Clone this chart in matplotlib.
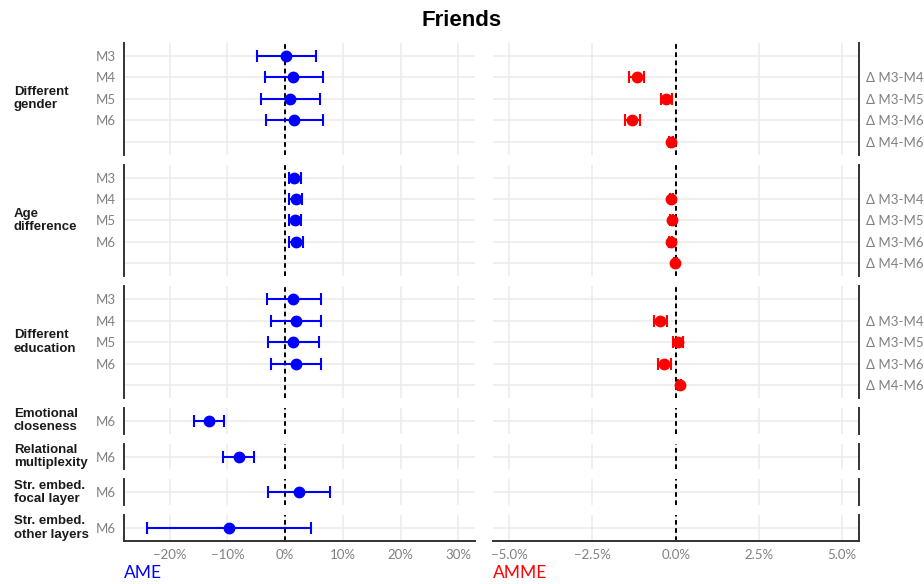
import matplotlib
matplotlib.use("Agg")
import matplotlib.pyplot as plt
from matplotlib.ticker import FuncFormatter, FixedLocator

# ---- data (percentage points) ----
facets = ["Different\ngender", "Age\ndifference", "Different\neducation",
          "Emotional\ncloseness", "Relational\nmultiplexity",
          "Str. embed.\nfocal layer", "Str. embed.\nother layers"]

models = ["M3", "M4", "M5", "M6"]
contrasts = ["\u0394 M3-M4", "\u0394 M3-M5", "\u0394 M3-M6", "\u0394 M4-M6"]

# Average marginal effects (AME) per facet, models M3..M6 (single-model facets: M6 only)
ame_models = [models, models, models, ["M6"], ["M6"], ["M6"], ["M6"]]
ame_est = [[0.1, 1.4, 0.9, 1.6],
           [1.6, 1.85, 1.7, 1.85],
           [1.4, 1.9, 1.4, 1.85],
           [-13.2], [-8.0], [2.4], [-9.8]]
ame_lo = [[-4.8, -3.5, -4.2, -3.3],
          [0.6, 0.75, 0.6, 0.6],
          [-3.2, -2.4, -2.9, -2.5],
          [-15.8], [-10.8], [-2.9], [-24.0]]
ame_hi = [[5.4, 6.6, 6.0, 6.6],
          [2.7, 2.9, 2.8, 3.1],
          [6.2, 6.2, 5.9, 6.2],
          [-10.6], [-5.4], [7.8], [4.5]]

# Average marginal model effects (AMME) for the first three facets
amme_est = [[-1.17, -0.28, -1.30, -0.14],
            [-0.13, -0.12, -0.15, -0.01],
            [-0.46, 0.07, -0.34, 0.12]]
amme_lo = [[-1.39, -0.43, -1.53, -0.19],
           [-0.17, -0.16, -0.19, -0.05],
           [-0.65, -0.09, -0.54, 0.07]]
amme_hi = [[-0.94, -0.11, -1.07, -0.09],
           [-0.09, -0.08, -0.11, 0.03],
           [-0.25, 0.21, -0.13, 0.17]]

# ---- styling ----
BLUE = "#0000FF"
RED = "#FF0000"
GRID = "#EBEBEB"
TICK_COL = "#808080"
SPINE_COL = "#333333"
TICK_FONT = ["Lato", "DejaVu Sans"]
BOLD_FONT = ["Liberation Sans", "DejaVu Sans"]


def pct0(v, _):
    if abs(v) < 1e-9:
        v = 0.0
    return f"{v:.0f}%".replace("-", "\u2212")


def pct1(v, _):
    if abs(v) < 1e-9:
        v = 0.0
    return f"{v:.1f}%".replace("-", "\u2212")


fig = plt.figure(figsize=(9.24, 5.84), dpi=100)
gs = fig.add_gridspec(7, 2, height_ratios=[5.2] * 3 + [1.2] * 4,
                      width_ratios=[351, 366],
                      left=124 / 924, right=858.7 / 924,
                      top=1 - 43 / 584, bottom=1 - 541 / 584,
                      hspace=0.16, wspace=0.049)

n = len(facets)
for i in range(n):
    axl = fig.add_subplot(gs[i, 0])
    axr = fig.add_subplot(gs[i, 1])
    big = len(ame_models[i]) > 1
    last = i == n - 1

    for ax in (axl, axr):
        ax.set_axisbelow(True)
        ax.grid(True, color=GRID, lw=1.1)
        ax.axvline(0, color="black", lw=1.4, ls=(0, (2.4, 1.8)), zorder=1.5)
        ax.tick_params(length=0, labelsize=9.5, labelcolor=TICK_COL)
        for s in ax.spines.values():
            s.set_visible(False)
        if last:
            ax.spines["bottom"].set_visible(True)
            ax.spines["bottom"].set_color(SPINE_COL)
            ax.spines["bottom"].set_linewidth(1.4)

    # left: AME
    axl.spines["left"].set_visible(True)
    axl.spines["left"].set_color(SPINE_COL)
    axl.spines["left"].set_linewidth(1.4)
    axl.set_xlim(-27.9, 32.9)
    axl.xaxis.set_major_locator(FixedLocator([-20, -10, 0, 10, 20, 30]))
    axl.xaxis.set_major_formatter(FuncFormatter(pct0))

    # right: AMME
    axr.spines["right"].set_visible(True)
    axr.spines["right"].set_color(SPINE_COL)
    axr.spines["right"].set_linewidth(1.4)
    axr.set_xlim(-5.5, 5.5)
    axr.xaxis.set_major_locator(FixedLocator([-5, -2.5, 0, 2.5, 5]))
    axr.xaxis.set_major_formatter(FuncFormatter(pct1))
    axr.yaxis.tick_right()

    if big:
        slots = list(range(5))
        axl.set_ylim(4.6, -0.6)
        axr.set_ylim(4.6, -0.6)
        axl.set_yticks(slots)
        axl.set_yticklabels(ame_models[i] + [""])
        axr.set_yticks(slots)
        axr.set_yticklabels([""] + contrasts)
        ypos_l = [models.index(m) for m in ame_models[i]]
        ypos_r = [k + 1 for k in range(len(contrasts))]
        est, lo, hi = amme_est[i], amme_lo[i], amme_hi[i]
        axr.errorbar(est, ypos_r,
                     xerr=[[e - l for e, l in zip(est, lo)],
                           [h - e for e, h in zip(est, hi)]],
                     fmt="o", color=RED, ms=7.5, lw=1.5, capsize=4,
                     capthick=1.5, zorder=3)
    else:
        axl.set_ylim(0.6, -0.6)
        axr.set_ylim(0.6, -0.6)
        axl.set_yticks([0])
        axl.set_yticklabels(ame_models[i])
        axr.set_yticks([0])
        axr.set_yticklabels([""])
        ypos_l = [0]

    est, lo, hi = ame_est[i], ame_lo[i], ame_hi[i]
    axl.errorbar(est, ypos_l,
                 xerr=[[e - l for e, l in zip(est, lo)],
                       [h - e for e, h in zip(est, hi)]],
                 fmt="o", color=BLUE, ms=7.5, lw=1.5, capsize=4,
                 capthick=1.5, zorder=3)

    for ax in (axl, axr):
        ax.tick_params(axis="y", pad=5.5)
        ax.tick_params(axis="x", pad=6)
        for t in ax.get_yticklabels() + ax.get_xticklabels():
            t.set_family(TICK_FONT)
        if not last:
            ax.tick_params(axis="x", labelbottom=False)

    # facet label
    pos = axl.get_position()
    fig.text(14 / 924, (pos.y0 + pos.y1) / 2, facets[i], ha="left", va="center",
             fontsize=9.5, fontweight="bold", color="#1A1A1A",
             family=BOLD_FONT, linespacing=1.15)

fig.text(0.5, 1 - 20 / 584, "Friends", ha="center", va="center",
         fontsize=16, fontweight="bold", family=BOLD_FONT, color="#000000")
fig.text(124 / 924, 1 - 572.5 / 584, "AME", ha="left", va="center",
         fontsize=12.5, color=BLUE, family=TICK_FONT)
fig.text(493 / 924, 1 - 572.5 / 584, "AMME", ha="left", va="center",
         fontsize=12.5, color=RED, family=TICK_FONT)

fig.savefig("out.png", dpi=100, facecolor="white")
